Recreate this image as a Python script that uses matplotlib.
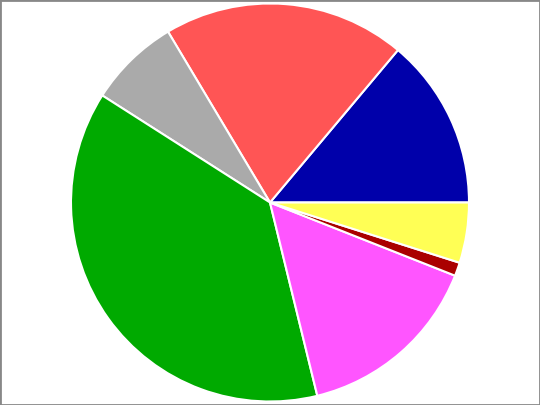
import matplotlib
matplotlib.use('Agg')
import matplotlib.pyplot as plt
from matplotlib.patches import Rectangle

# Доли секторов (в процентах), против часовой стрелки от 3 часов
labels = ['blue', 'red', 'gray', 'green', 'magenta', 'darkred', 'yellow']
values = [13.9, 19.7, 7.4, 37.9, 15.2, 1.1, 4.9]
colors = ['#0000AA', '#FF5555', '#AAAAAA', '#00AA00', '#FF55FF', '#AA0000', '#FFFF55']

fig = plt.figure(figsize=(5.4, 4.05), dpi=100)
ax = fig.add_axes([0, 0, 1, 1])
ax.pie(values, colors=colors, startangle=0, counterclock=True, radius=1.0,
       wedgeprops={'edgecolor': 'white', 'linewidth': 1.5})

r_px = 199
ax.set_xlim(-270 / r_px, 270 / r_px)
ax.set_ylim(-202.5 / r_px, 202.5 / r_px)
ax.set_aspect('auto')
ax.axis('off')

# серая рамка вокруг картинки
fig.add_artist(Rectangle((0, 0), 1, 1, transform=fig.transFigure, fill=False,
                         edgecolor='#888888', linewidth=2))

fig.savefig('out.png', dpi=100)
